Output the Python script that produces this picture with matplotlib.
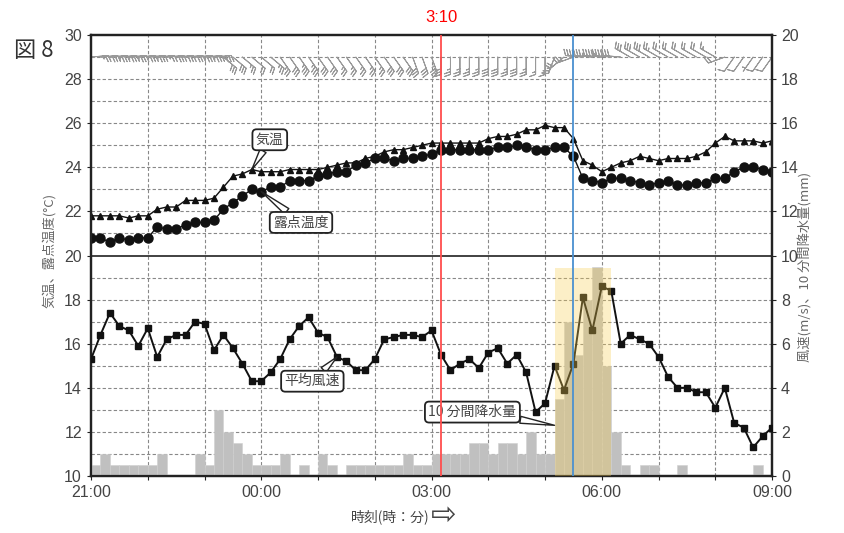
import numpy as np
import matplotlib.pyplot as plt

plt.rcParams['font.family'] = ['Liberation Sans', 'Noto Sans CJK JP', 'DejaVu Sans']
JP = ['Noto Sans CJK JP', 'DejaVu Sans']

# 10-minute observations, 21:00 -> 09:00 (73 points)
temp = [21.8, 21.8, 21.8, 21.8, 21.7, 21.8, 21.8,
        22.1, 22.2, 22.2, 22.5, 22.5, 22.5, 22.6,
        23.1, 23.6, 23.7, 23.9, 23.8, 23.8, 23.8,
        23.9, 23.9, 23.9, 23.9, 24.0, 24.1, 24.2,
        24.2, 24.4, 24.5, 24.7, 24.8, 24.8, 24.9,
        25.0, 25.1, 25.1, 25.1, 25.1, 25.1, 25.1,
        25.3, 25.4, 25.4, 25.5, 25.7, 25.7, 25.9,
        25.8, 25.8, 25.3, 24.3, 24.1, 23.8, 24.0,
        24.2, 24.3, 24.5, 24.4, 24.3, 24.4, 24.4,
        24.4, 24.5, 24.7, 25.1, 25.4, 25.2, 25.2,
        25.2, 25.1, 25.2]
dew = [20.8, 20.8, 20.6, 20.8, 20.7, 20.8, 20.8,
       21.3, 21.2, 21.2, 21.4, 21.5, 21.5, 21.6,
       22.1, 22.4, 22.7, 23.0, 22.9, 23.1, 23.1,
       23.4, 23.4, 23.4, 23.6, 23.7, 23.8, 23.8,
       24.1, 24.2, 24.4, 24.4, 24.3, 24.4, 24.4,
       24.5, 24.6, 24.8, 24.8, 24.8, 24.8, 24.8,
       24.8, 24.9, 24.9, 25.0, 24.9, 24.8, 24.8,
       24.9, 24.9, 24.5, 23.5, 23.4, 23.3, 23.5,
       23.5, 23.4, 23.3, 23.2, 23.3, 23.4, 23.2,
       23.2, 23.3, 23.3, 23.5, 23.5, 23.8, 24.0,
       24.0, 23.9, 23.8]
wind = [5.3, 6.4, 7.4, 6.8, 6.6, 5.9, 6.7,
        5.4, 6.2, 6.4, 6.4, 7.0, 6.9, 5.7,
        6.4, 5.8, 5.1, 4.3, 4.3, 4.7, 5.3,
        6.2, 6.8, 7.2, 6.5, 6.3, 5.4, 5.2,
        4.8, 4.8, 5.3, 6.2, 6.3, 6.4, 6.4,
        6.3, 6.6, 5.5, 4.8, 5.1, 5.3, 4.9,
        5.6, 5.8, 5.1, 5.5, 4.7, 2.9, 3.3,
        5.0, 3.9, 5.1, 8.1, 6.6, 8.6, 8.4,
        6.0, 6.4, 6.2, 6.0, 5.4, 4.5, 4.0,
        4.0, 3.8, 3.8, 3.1, 4.0, 2.4, 2.2,
        1.3, 1.8, 2.2]
# wind direction (deg, coming from), read roughly from the barbs
wdir = [85] * 14 + [130] * 6 + [145] * 14 + [160] * 3 + [180] * 12 + \
       [200, 230, 250] + [275] * 5 + [300] * 10 + [250] + [215] * 5
# 10-minute precipitation (72 intervals)
precip = [0.5, 1.0, 0.5, 0.5, 0.5, 0.5, 0.5, 1.0, 0,
          0, 0, 1.0, 0.5, 3.0, 2.0, 1.5, 1.0, 0.5,
          0.5, 0.5, 1.0, 0, 0.5, 0, 1.0, 0.5, 0,
          0.5, 0.5, 0.5, 0.5, 0.5, 0.5, 1.0, 0.5, 0.5,
          1.0, 1.0, 1.0, 1.0, 1.5, 1.5, 1.0, 1.5, 1.5,
          1.0, 2.0, 1.0, 1.0, 3.5, 7.0, 5.5, 8.0, 9.5,
          5.0, 2.0, 0.5, 0, 0.5, 0.5, 0, 0, 0.5,
          0, 0, 0, 0, 0, 0, 0, 0.5, 0]

tick_labels = ['21:00', '', '', '00:00', '', '', '03:00', '', '', '06:00', '', '', '09:00']

t = np.arange(len(temp)) / 6.0   # hours after 21:00
red_t = 6 + 1 / 6       # 03:10
blue_t = 8.5            # 05:30
shade_start, shade_end, shade_top = 8 + 1 / 6, 9 + 1 / 6, 9.45

fig = plt.figure(figsize=(8.45, 5.33), dpi=100)
ax = fig.add_axes([0.1077, 0.1069, 0.806, 0.8274])
ax2 = ax.twinx()

ax.set_xlim(0, 12)
ax.set_ylim(10, 30)
ax2.set_ylim(0, 20)

for h in range(1, 12):
    ax.axvline(h, color='#888888', lw=0.8, ls=(0, (3, 2)), zorder=0)
for y in range(11, 30):
    if y != 20:
        ax.axhline(y, color='#888888', lw=0.8, ls=(0, (3, 2)), zorder=0)
ax.axhline(20, color='#333333', lw=1.3, zorder=1)

# temperature and dew point
ax.plot(t, temp, color='#111111', lw=1.0, marker='^', ms=4.8, zorder=3)
ax.plot(t, dew, color='#111111', lw=1.0, marker='o', ms=6.5, zorder=3)

# wind barbs along the top
s = np.array(wind)
d = np.deg2rad(wdir)
u = -s * np.sin(d)
v = -s * np.cos(d)
ax.barbs(t, np.full(len(t), 29.0), u, v, length=5.0, color='#999999',
         linewidth=0.7, barb_increments=dict(half=1, full=2, flag=20),
         sizes=dict(spacing=0.16, height=0.35), zorder=2)

# precipitation and mean wind speed
ax2.bar(t[:-1], precip, width=1 / 6, align='edge', color='#c0c0c0',
        edgecolor='#cfcfcf', linewidth=0.4, zorder=1)
ax2.plot(t, wind, color='#111111', lw=1.4, marker='s', ms=4, zorder=3)
ax2.axvspan(shade_start, shade_end, ymin=0, ymax=shade_top / 20,
            color='#f8cf52', alpha=0.32, lw=0, zorder=4)

ax2.axvline(red_t, color='#ff4d4d', lw=1.3, zorder=6)
ax2.axvline(blue_t, color='#4a90d0', lw=1.3, zorder=6)
ax.text(red_t, 30.8, '3:10', color='red', fontsize=12, ha='center', va='center')

# callouts
box = dict(boxstyle='round,pad=0.25,rounding_size=0.3', fc='white', ec='#222222', lw=1.3)
arr = dict(arrowstyle='wedge,tail_width=0.5', fc='white', ec='#222222', lw=1.0, shrinkA=0, shrinkB=0)
ax.annotate('気温', xy=(t[17], temp[17]), xytext=(3.15, 25.25), fontsize=10,
            color='#444444', family=JP, ha='center', va='center', bbox=box,
            arrowprops=arr, zorder=5)
ax.annotate('露点温度', xy=(t[18], dew[18]), xytext=(3.7, 21.5), fontsize=10,
            color='#444444', family=JP, ha='center', va='center', bbox=box,
            arrowprops=arr, zorder=5)
ax2.annotate('平均風速', xy=(t[26], wind[26]), xytext=(3.9, 4.3), fontsize=10,
             color='#444444', family=JP, ha='center', va='center', bbox=box,
             arrowprops=arr, zorder=5)
ax2.annotate('10 分間降水量', xy=(shade_start, 2.3), xytext=(6.72, 2.9), fontsize=10,
             color='#444444', family=JP, ha='center', va='center', bbox=box,
             arrowprops=arr, zorder=5)

# axes styling
ax.set_xticks(range(13))
ax.set_xticklabels(tick_labels)
ax.set_yticks(range(10, 31, 2))
ax2.set_yticks(range(0, 21, 2))
for a in (ax, ax2):
    a.tick_params(labelsize=11.5, colors='#222222', labelcolor='#444444',
                  length=3, width=0.8)
    for sp in a.spines.values():
        sp.set_linewidth(1.6)
        sp.set_color('#222222')

fig.text(0.016, 0.905, '図 8', fontsize=16, color='#333333', family=JP,
         ha='left', va='center')
fig.text(0.058, 0.53, '気温、露点温度(°C)', rotation=90, fontsize=9.5,
         color='#666666', family=JP, ha='center', va='center')
fig.text(0.953, 0.50, '風速(m/s)、10 分間降水量(mm)', rotation=90, fontsize=9.5,
         color='#666666', family=JP, ha='center', va='center')
fig.text(0.462, 0.031, '時刻(時：分)', fontsize=10, color='#444444', family=JP,
         ha='center', va='center')
fig.text(0.525, 0.034, '⇨', fontsize=22, color='#444444', family=['DejaVu Sans'],
         ha='center', va='center')

fig.savefig('out.png', dpi=100)
